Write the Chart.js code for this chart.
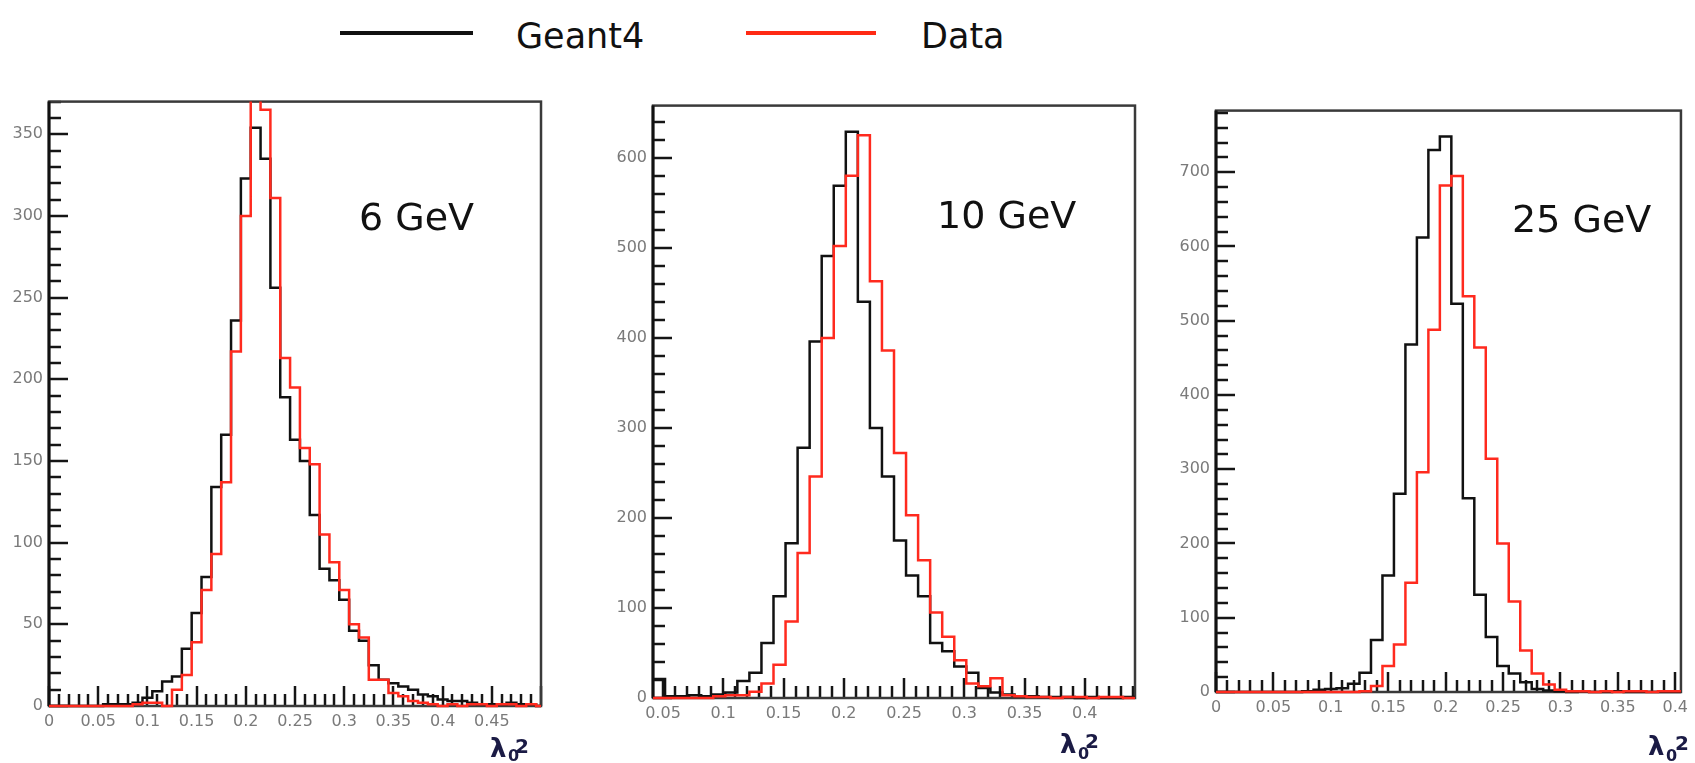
<!DOCTYPE html>
<html>
<head>
<meta charset="utf-8">
<script src="https://cdn.jsdelivr.net/npm/chart.js@4.4.1/dist/chart.umd.min.js"></script>
<style>
  html, body { margin: 0; padding: 0; background: #fff; }
  body { width: 1695px; height: 763px; position: relative; overflow: hidden; font-family: "DejaVu Sans", sans-serif; }
  canvas { position: absolute; }
  .txt { position: absolute; line-height: 1; white-space: nowrap; color: #111; }
  .lam { position: absolute; line-height: 1; white-space: nowrap; color: #1b1b45; font-weight: bold; }
  .key { position: absolute; height: 4px; }
</style>
</head>
<body>

<!-- legend -->
<div class="key" style="left:340px;top:31px;width:133px;background:#111"></div>
<div class="txt" style="left:516px;top:19px;font-size:35px">Geant4</div>
<div class="key" style="left:746px;top:31px;width:130px;background:#ff2a14"></div>
<div class="txt" style="left:921px;top:19px;font-size:35px">Data</div>

<canvas id="c6" width="550" height="660" style="left:1px;top:86px"></canvas>
<canvas id="c10" width="540" height="648" style="left:605px;top:90px"></canvas>
<canvas id="c25" width="526" height="637" style="left:1168px;top:95px"></canvas>

<!-- energy labels -->
<div class="txt" style="left:359px;top:198px;font-size:38px">6 GeV</div>
<div class="txt" style="left:937px;top:196px;font-size:38px">10 GeV</div>
<div class="txt" style="left:1512px;top:200px;font-size:38px">25 GeV</div>

<!-- axis titles -->
<div class="lam" style="left:490px;top:735px;font-size:26px">λ</div>
<div class="lam" style="left:508px;top:748px;font-size:16px">0</div>
<div class="lam" style="left:515px;top:736px;font-size:20px">2</div>

<div class="lam" style="left:1060px;top:731px;font-size:26px">λ</div>
<div class="lam" style="left:1078px;top:746px;font-size:16px">0</div>
<div class="lam" style="left:1085px;top:731px;font-size:20px">2</div>

<div class="lam" style="left:1648px;top:733px;font-size:26px">λ</div>
<div class="lam" style="left:1666px;top:748px;font-size:16px">0</div>
<div class="lam" style="left:1675px;top:733px;font-size:20px">2</div>

<script>
// histogram binning (lower edge of first bin, bin width)
const bins6 = { lo: -0.005, width: 0.01 };
const bins10 = { lo: 0.0417, width: 0.01 };
const bins25 = { lo: -0.005, width: 0.01 };

// counts per bin
const geant6 = [0,0,0,0,0,0,1,1,1,2, 5,9,15,18,35,57,79,134,166,236,
  323,354,335,256,189,163,150,117,84,77, 65,46,40,25,16,14,12,10,7,6,
  4,3,3,2,1,1,1,2,1,1, 0];
const data6 = [0,0,0,0,0,0,0,0,0,1, 2,2,0,10,19,39,71,93,137,217,
  300,385,365,311,213,195,158,148,105,88, 71,50,42,16,16,8,6,3,2,1,
  0,1,0,1,1,0,1,1,0,1, 0];

const geant10 = [21,2,2,3,2,4,6,19,28,61, 113,172,278,396,491,569,629,440,300,246,
  175,136,113,61,52,35,28,11,6,4, 2,2,1,1,1,0,1,0,0,1];
const data10 = [0,0,0,0,0,2,3,3,7,16, 37,85,161,246,400,502,580,625,463,386,
  272,203,153,95,68,42,16,13,22,3, 2,1,1,0,1,1,0,1,1,0];

const geant25 = [0,0,0,0,0,0,0,0,1,3, 4,5,11,26,70,157,267,468,612,730,
  748,523,261,131,74,35,25,13,4,2, 1,0,1,0,0,1,0,0,0,0, 0];
const data25 = [0,0,0,0,0,0,0,0,0,0, 0,0,0,1,8,35,64,147,296,488,
  682,695,533,464,314,200,122,56,25,10, 3,1,1,0,1,0,1,1,0,1, 1];

// tick labels
const xTicks6 = [0, 0.05, 0.1, 0.15, 0.2, 0.25, 0.3, 0.35, 0.4, 0.45];
const xTicks10 = [0.05, 0.1, 0.15, 0.2, 0.25, 0.3, 0.35, 0.4];
const xTicks25 = [0, 0.05, 0.1, 0.15, 0.2, 0.25, 0.3, 0.35, 0.4];
const yTicks6 = [0, 50, 100, 150, 200, 250, 300, 350];
const yTicks10 = [0, 100, 200, 300, 400, 500, 600];
const yTicks25 = [0, 100, 200, 300, 400, 500, 600, 700];

Chart.defaults.font.family = '"DejaVu Sans", sans-serif';

// ROOT style frame with inward ticks
const rootFrame = {
  id: 'rootFrame',
  beforeDatasetsDraw(chart, args, opts) {
    const ctx = chart.ctx, a = chart.chartArea;
    const x = chart.scales.x, y = chart.scales.y;
    ctx.save();
    ctx.strokeStyle = '#151515';
    ctx.lineWidth = 2.5;
    for (let i = Math.ceil(x.min / opts.xMinor - 1e-6); i * opts.xMinor <= x.max + 1e-9; i++) {
      const v = i * opts.xMinor;
      const r = v / opts.xMajor;
      const major = Math.abs(r - Math.round(r)) < 1e-6;
      const px = Math.round(x.getPixelForValue(v));
      ctx.beginPath();
      ctx.moveTo(px, a.bottom);
      ctx.lineTo(px, a.bottom - (major ? 20 : 12));
      ctx.stroke();
    }
    for (let i = Math.ceil(y.min / opts.yMinor); i * opts.yMinor <= y.max; i++) {
      const v = i * opts.yMinor;
      const major = v % opts.yMajor === 0;
      const py = Math.round(y.getPixelForValue(v));
      ctx.beginPath();
      ctx.moveTo(a.left, py);
      ctx.lineTo(a.left + (major ? 19 : 12), py);
      ctx.stroke();
    }
    ctx.strokeStyle = '#3a3a3a';
    ctx.lineWidth = 2.5;
    ctx.strokeRect(a.left, a.top, a.right - a.left, a.bottom - a.top);
    ctx.strokeStyle = '#111';
    ctx.lineWidth = 3;
    ctx.beginPath();
    ctx.moveTo(a.left, a.top);
    ctx.lineTo(a.left, a.bottom);
    ctx.stroke();
    ctx.restore();
  }
};

function histPoints(bins, vals) {
  const pts = vals.map((v, i) => ({ x: bins.lo + i * bins.width, y: v }));
  pts.push({ x: bins.lo + vals.length * bins.width, y: vals[vals.length - 1] });
  return pts;
}

function makePanel(id, bins, geant, data, xt, yt, xmin, xmax, ymax, xMinor, yMinor, yMajor, padR) {
  const line = (label, vals, color, order) => ({
    label: label,
    data: histPoints(bins, vals),
    borderColor: color,
    borderWidth: 2.5,
    stepped: true,
    pointRadius: 0,
    fill: false,
    order: order,
    clip: { left: 0, top: 0, right: 0, bottom: 4 }
  });
  return new Chart(document.getElementById(id), {
    type: 'line',
    data: {
      datasets: [
        line('Geant4', geant, '#111111', 1),
        line('Data', data, '#ff2a1e', 0)
      ]
    },
    plugins: [rootFrame],
    options: {
      responsive: false,
      animation: false,
      layout: { padding: { top: 10, right: padR, left: 0, bottom: 0 } },
      plugins: {
        legend: { display: false },
        tooltip: { enabled: false },
        rootFrame: { xMinor: xMinor, xMajor: 0.05, yMinor: yMinor, yMajor: yMajor }
      },
      scales: {
        x: {
          type: 'linear',
          min: xmin,
          max: xmax,
          grid: { display: false, drawTicks: false },
          border: { display: false },
          afterBuildTicks: s => { s.ticks = xt.map(v => ({ value: v })); },
          afterFit: s => { s.height = 40; },
          ticks: {
            padding: 6,
            color: '#7a7a7a',
            font: { size: 16 },
            maxRotation: 0,
            autoSkip: false,
            callback: v => String(+v.toFixed(2))
          }
        },
        y: {
          min: 0,
          max: ymax,
          grid: { display: false, drawTicks: false },
          border: { display: false },
          afterBuildTicks: s => { s.ticks = yt.map(v => ({ value: v })); },
          afterFit: s => { s.width = 48; },
          ticks: {
            padding: 6,
            color: '#7a7a7a',
            font: { size: 16 },
            autoSkip: false,
            callback: v => String(v)
          }
        }
      }
    }
  });
}

makePanel('c6', bins6, geant6, data6, xTicks6, yTicks6, 0, 0.5, 370, 0.01, 10, 50, 10);
makePanel('c10', bins10, geant10, data10, xTicks10, yTicks10, 0.0417, 0.4417, 658, 0.01, 20, 100, 10);
makePanel('c25', bins25, geant25, data25, xTicks25, yTicks25, 0, 0.405, 783, 0.01, 20, 100, 6);
</script>
</body>
</html>
